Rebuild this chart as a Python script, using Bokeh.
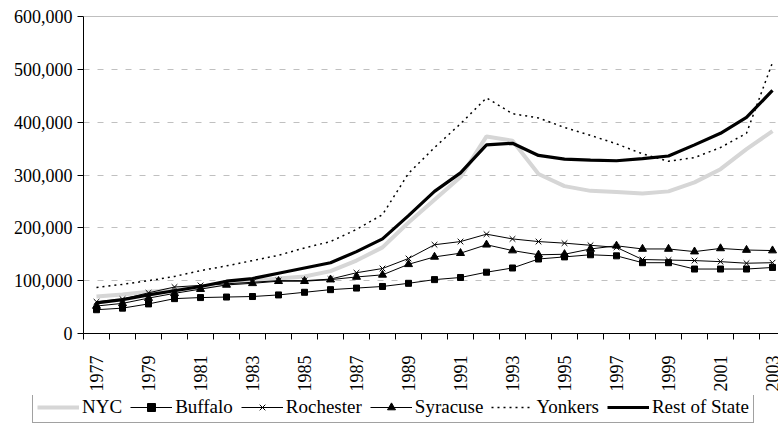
from bokeh.plotting import figure
from bokeh.layouts import column
from bokeh.models import (Range1d, FixedTicker, NumeralTickFormatter, Span,
                          Legend, LegendItem)
from bokeh.embed import file_html
from bokeh.resources import INLINE
import math

years = list(range(1977, 2004))
odd_year_ticks = list(range(1977, 2004, 2))

nyc = [70, 74, 79, 83, 87, 94, 99, 104, 108, 118, 138, 163, 210, 253, 296, 373,
       365, 302, 279, 270, 268, 265, 269, 286, 311, 349, 383]
buffalo = [45, 48, 56, 66, 68, 69, 70, 73, 78, 83, 86, 89, 95, 102, 106, 116,
           124, 141, 145, 149, 147, 134, 134, 122, 122, 122, 125]
rochester = [60, 65, 77, 88, 91, 94, 97, 100, 100, 103, 115, 123, 142, 168, 174,
             188, 179, 174, 171, 167, 163, 140, 139, 138, 136, 133, 134]
syracuse = [52, 57, 67, 76, 84, 92, 95, 99, 99, 102, 107, 111, 131, 145, 152,
            168, 157, 149, 150, 160, 166, 160, 160, 155, 161, 158, 157]
yonkers = [87, 93, 100, 108, 119, 128, 138, 148, 162, 174, 197, 225, 303, 352,
           397, 446, 416, 408, 390, 375, 359, 340, 326, 333, 352, 379, 513]
rest_of_state = [58, 64, 73, 81, 89, 99, 104, 114, 124, 134, 155, 179, 223, 269,
                 304, 357, 360, 337, 330, 328, 327, 331, 336, 357, 379, 409, 460]

series_names = ["NYC", "Buffalo", "Rochester", "Syracuse", "Yonkers",
                "Rest of State"]
y_ticks = [0, 100000, 200000, 300000, 400000, 500000, 600000]

def k(v):
    return [x * 1000 for x in v]

FONT = "Liberation Serif"

STYLES = {
    "NYC": dict(line=dict(line_color="#d6d6d6", line_width=4), marker=None),
    "Buffalo": dict(line=dict(line_color="black", line_width=1),
                    marker=dict(marker="square", size=6, fill_color="black",
                                line_color="black")),
    "Rochester": dict(line=dict(line_color="black", line_width=1),
                      marker=dict(marker="x", size=8, line_color="black",
                                  line_width=1)),
    "Syracuse": dict(line=dict(line_color="black", line_width=1),
                     marker=dict(marker="triangle", size=8, fill_color="black",
                                 line_color="black")),
    "Yonkers": dict(line=dict(line_color="black", line_width=1.5,
                              line_dash="2 4"), marker=None),
    "Rest of State": dict(line=dict(line_color="black", line_width=3.2),
                          marker=None),
}
data = {"NYC": nyc, "Buffalo": buffalo, "Rochester": rochester,
        "Syracuse": syracuse, "Yonkers": yonkers, "Rest of State": rest_of_state}

FRAME_W = 695
p = figure(width=778, height=395, output_backend="svg", toolbar_location=None,
           x_range=Range1d(1976.5, 1976.5 + FRAME_W / 26.0),
           y_range=Range1d(0, 600000),
           min_border_left=83, min_border_right=0, min_border_top=16,
           min_border_bottom=62)
p.outline_line_color = None
p.background_fill_color = "white"
p.border_fill_color = "white"

xa = p.xaxis[0]
xa.ticker = FixedTicker(ticks=odd_year_ticks,
                        minor_ticks=[y - 0.5 for y in years] + [2003.5])
xa.major_tick_line_color = None
xa.major_tick_out = 6
xa.major_tick_in = 0
xa.minor_tick_line_color = "black"
xa.minor_tick_out = 6
xa.minor_tick_in = 0
xa.major_label_orientation = math.pi / 2
xa.major_label_standoff = 16
xa.major_label_text_font = FONT
xa.major_label_text_font_size = "18px"
xa.major_label_text_color = "black"
xa.axis_line_color = "black"

ya = p.yaxis[0]
ya.ticker = FixedTicker(ticks=y_ticks)
ya.formatter = NumeralTickFormatter(format="0,0")
ya.major_tick_out = 6
ya.major_tick_in = 0
ya.minor_tick_line_color = None
ya.major_label_standoff = 5
ya.major_label_text_font = FONT
ya.major_label_text_font_size = "18px"
ya.major_label_text_color = "black"
ya.axis_line_color = "black"

p.xgrid.grid_line_color = None
p.ygrid.ticker = FixedTicker(ticks=[100000, 200000, 300000, 400000, 500000])
p.ygrid.grid_line_color = "#c0c0c0"
p.ygrid.grid_line_dash = "6 8"
p.ygrid.grid_line_width = 1

p.add_layout(Span(location=600000, dimension="width", line_color="#808080",
                  line_width=1))

for name in series_names:
    st = STYLES[name]
    p.line(years, k(data[name]), **st["line"])
    if st["marker"]:
        p.scatter(years, k(data[name]), **st["marker"])

# legend strip: a second figure whose ranges keep its copies of the series
# out of view, so only the legend is seen
lf = figure(width=778, height=29, output_backend="svg", toolbar_location=None,
            x_range=Range1d(0, 1), y_range=Range1d(0, 1),
            min_border_left=0, min_border_right=0, min_border_top=0,
            min_border_bottom=0)
lf.axis.visible = False
lf.grid.visible = False
lf.outline_line_color = None
lf.background_fill_color = "white"
lf.border_fill_color = "white"
for fig in (p, lf):
    if "frame_align" in fig.properties():
        fig.frame_align = False

items = []
for name in series_names:
    st = STYLES[name]
    rs = [lf.line(years, k(data[name]), **st["line"])]
    if st["marker"]:
        rs.append(lf.scatter(years, k(data[name]), **st["marker"]))
    items.append(LegendItem(label=name, renderers=rs))

legend = Legend(items=items, orientation="horizontal", location=(32, 1))
legend.label_text_font = FONT
legend.label_text_font_size = "19px"
legend.label_text_color = "black"
legend.glyph_width = 42
legend.glyph_height = 20
legend.label_height = 20
legend.label_standoff = 3
legend.spacing = 8
legend.padding = 4
legend.margin = 0
legend.border_line_color = "#444444"
legend.border_line_width = 1
legend.background_fill_color = "white"
legend.background_fill_alpha = 1
lf.add_layout(legend, "center")

layout = column(p, lf, spacing=0)
open("out.html", "w").write(file_html(layout, INLINE))
